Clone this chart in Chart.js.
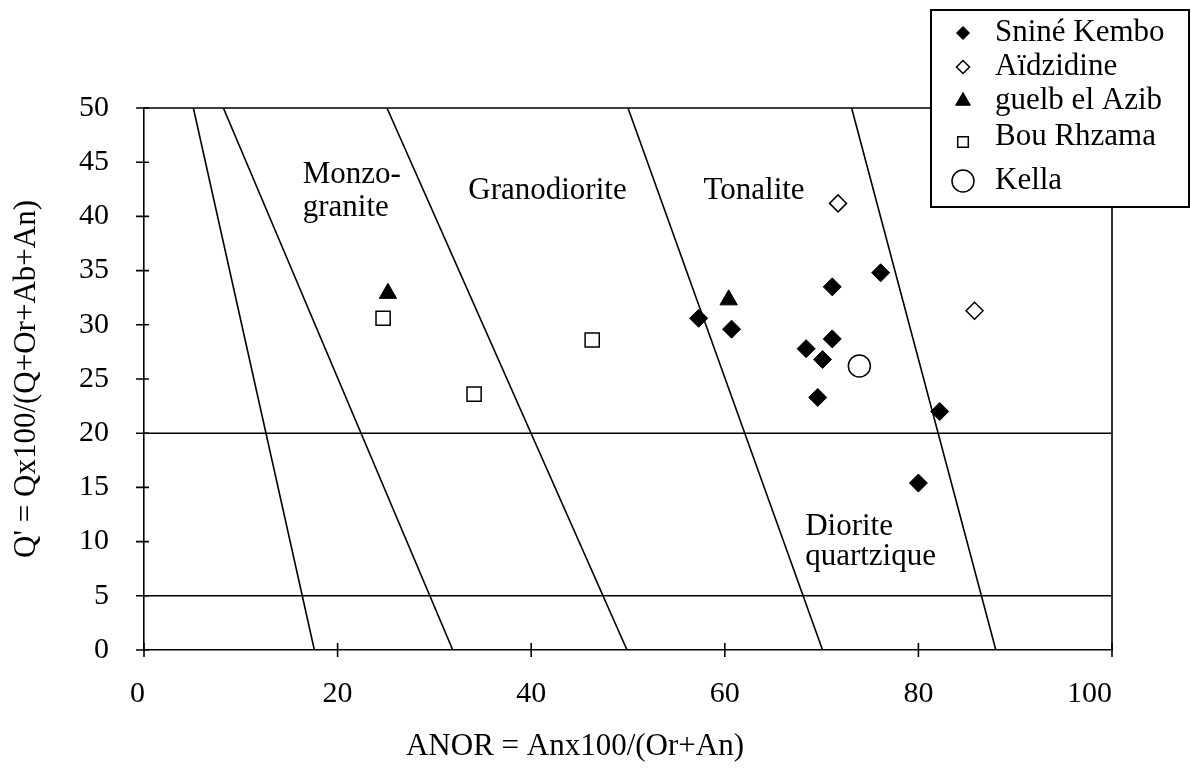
<!DOCTYPE html>
<html>
<head>
<meta charset="utf-8">
<script src="https://cdn.jsdelivr.net/npm/chart.js@4.4.1/dist/chart.umd.min.js"></script>
<style>
  html, body { margin: 0; padding: 0; background: #fff; }
</style>
</head>
<body>
<canvas id="chart" width="1191" height="772"></canvas>
<script>
// samples (ANOR, Q')
const sniKemboX = [57.3, 60.7, 71.1, 76.1, 71.1, 68.4, 70.1, 69.6, 82.2, 80.0];
const sniKemboY = [30.6, 29.6, 33.5, 34.8, 28.7, 27.8, 26.8, 23.3, 22.0, 15.4];
const aidzidineX = [71.7, 85.8];
const aidzidineY = [41.2, 31.3];
const guelbX = [25.2, 60.4];
const guelbY = [32.9, 32.3];
const bouRhzamaX = [24.7, 34.1, 46.3];
const bouRhzamaY = [30.6, 23.6, 28.6];
const kellaX = [73.9];
const kellaY = [26.2];

// field boundaries: ANOR at Q'=50 and at Q'=0
const fieldTopX = [5.1, 8.2, 25.1, 50.0, 73.1];
const fieldBottomX = [17.6, 31.9, 49.9, 70.1, 88.0];
const limitsQ = [20, 5];

const xTicks = [0, 20, 40, 60, 80, 100];
const yTicks = [0, 5, 10, 15, 20, 25, 30, 35, 40, 45, 50];

// field names (left edge in ANOR, middle in Q')
const fieldNames = ["Monzo-", "granite", "Granodiorite", "Tonalite", "Diorite", "quartzique"];
const fieldNameX = [16.4, 16.4, 33.5, 57.8, 68.3, 68.3];
const fieldNameY = [43.8, 40.8, 42.4, 42.4, 11.4, 8.6];

const FONT = "'Liberation Serif', 'Times New Roman', serif";
const tickFont = { family: FONT, size: 30 };
const textFont = { family: FONT, size: 31 };

function pts(xs, ys) {
  return xs.map((x, i) => ({ x: x, y: ys[i] }));
}

const datasets = [
  { label: "Sniné Kembo", data: pts(sniKemboX, sniKemboY), pointStyle: "rectRot", pointRadius: 9,
    backgroundColor: "#000", borderColor: "#000", borderWidth: 1, order: 0, legendR: 6.5 },
  { label: "Aïdzidine", data: pts(aidzidineX, aidzidineY), pointStyle: "rectRot", pointRadius: 8.5,
    backgroundColor: "#fff", borderColor: "#000", borderWidth: 1.5, order: 0, legendR: 6.5 },
  { label: "guelb el Azib", data: pts(guelbX, guelbY), pointStyle: "triangle", pointRadius: 10,
    backgroundColor: "#000", borderColor: "#000", borderWidth: 1, order: 0, legendR: 8.5 },
  { label: "Bou Rhzama", data: pts(bouRhzamaX, bouRhzamaY), pointStyle: "rect", pointRadius: 10,
    backgroundColor: "#fff", borderColor: "#000", borderWidth: 1.5, order: 0, legendR: 7.5 },
  { label: "Kella", data: pts(kellaX, kellaY), pointStyle: "circle", pointRadius: 11,
    backgroundColor: "#fff", borderColor: "#000", borderWidth: 1.5, order: 0, legendR: 11 }
];

const lineStyle = { showLine: true, pointRadius: 0, borderColor: "#000", borderWidth: 1.6,
  backgroundColor: "#000", fill: false, order: 1, isBoundary: true };

fieldTopX.forEach((x, i) => {
  datasets.push(Object.assign({ label: "b" + i, data: [{ x: x, y: 50 }, { x: fieldBottomX[i], y: 0 }] }, lineStyle));
});
limitsQ.forEach((q, i) => {
  datasets.push(Object.assign({ label: "h" + i, data: [{ x: 0, y: q }, { x: 100, y: q }] }, lineStyle));
});

// frame, crossing ticks, x tick labels, field names, x title
const decorations = {
  id: "decorations",
  afterDatasetsDraw(chart) {
    const ctx = chart.ctx;
    const xs = chart.scales.x, ys = chart.scales.y;
    const a = chart.chartArea;
    ctx.save();
    ctx.strokeStyle = "#000";
    ctx.lineWidth = 1.6;
    ctx.beginPath();
    ctx.moveTo(a.left, a.top);
    ctx.lineTo(a.right, a.top);
    ctx.lineTo(a.right, a.bottom);
    ctx.stroke();
    ctx.beginPath();
    xTicks.forEach(v => {
      const px = xs.getPixelForValue(v);
      ctx.moveTo(px, a.bottom - 7);
      ctx.lineTo(px, a.bottom + 7);
    });
    yTicks.forEach(v => {
      const py = ys.getPixelForValue(v);
      ctx.moveTo(a.left - 8, py);
      ctx.lineTo(a.left + 5, py);
    });
    ctx.stroke();

    ctx.fillStyle = "#000";
    ctx.textBaseline = "middle";
    ctx.font = "30px " + FONT;
    xTicks.forEach((v, i) => {
      const edge = i === 0 || i === xTicks.length - 1;
      ctx.textAlign = edge ? "right" : "center";
      ctx.fillText(String(v), xs.getPixelForValue(v) + (i === 0 ? 1 : 0), a.bottom + 44);
    });

    ctx.font = "31px " + FONT;
    ctx.textAlign = "left";
    fieldNames.forEach((t, i) => {
      ctx.fillText(t, xs.getPixelForValue(fieldNameX[i]), ys.getPixelForValue(fieldNameY[i]));
    });
    ctx.textAlign = "center";
    ctx.fillText("ANOR = Anx100/(Or+An)", 575, 747);
    ctx.restore();
  }
};

// boxed legend in the top right corner
const boxLegend = {
  id: "boxLegend",
  afterDraw(chart) {
    const ctx = chart.ctx;
    const rows = [33, 67, 101, 137, 181];
    ctx.save();
    ctx.fillStyle = "#fff";
    ctx.fillRect(931, 10, 258, 197);
    ctx.strokeStyle = "#000";
    ctx.lineWidth = 2;
    ctx.strokeRect(931, 10, 258, 197);
    chart.data.datasets.filter(d => !d.isBoundary).forEach((d, i) => {
      const y = rows[i];
      ctx.fillStyle = d.backgroundColor;
      ctx.strokeStyle = d.borderColor;
      ctx.lineWidth = d.borderWidth;
      const sy = d.pointStyle === "rect" ? y + 5 : y;
      Chart.helpers.drawPoint(ctx, { pointStyle: d.pointStyle, radius: d.legendR, rotation: 0,
        borderWidth: d.borderWidth }, 963, sy);
      ctx.fillStyle = "#000";
      ctx.font = "31px " + FONT;
      ctx.textBaseline = "middle";
      ctx.textAlign = "left";
      ctx.fillText(d.label, 995, y);
    });
    ctx.restore();
  }
};

new Chart(document.getElementById("chart"), {
  type: "scatter",
  data: { datasets: datasets },
  options: {
    responsive: false,
    devicePixelRatio: 1,
    animation: false,
    layout: { padding: { left: 0, top: 108, right: 79, bottom: 0 } },
    plugins: { legend: { display: false }, tooltip: { enabled: false } },
    scales: {
      x: {
        type: "linear", min: 0, max: 100,
        afterBuildTicks: s => { s.ticks = xTicks.map(v => ({ value: v })); },
        afterFit: s => { s.height = 122; },
        grid: { display: false },
        border: { display: true, color: "#000", width: 1.6 },
        ticks: { display: false }
      },
      y: {
        type: "linear", min: 0, max: 50,
        afterBuildTicks: s => { s.ticks = yTicks.map(v => ({ value: v })); },
        afterFit: s => { s.width = 144; },
        grid: { display: false },
        border: { display: true, color: "#000", width: 1.6 },
        ticks: { color: "#000", font: tickFont, padding: 27 },
        title: { display: true, text: "Q' = Qx100/(Q+Or+Ab+An)", color: "#000", font: textFont,
          padding: { top: 8, bottom: 0 } }
      }
    }
  },
  plugins: [decorations, boxLegend]
});
</script>
</body>
</html>
